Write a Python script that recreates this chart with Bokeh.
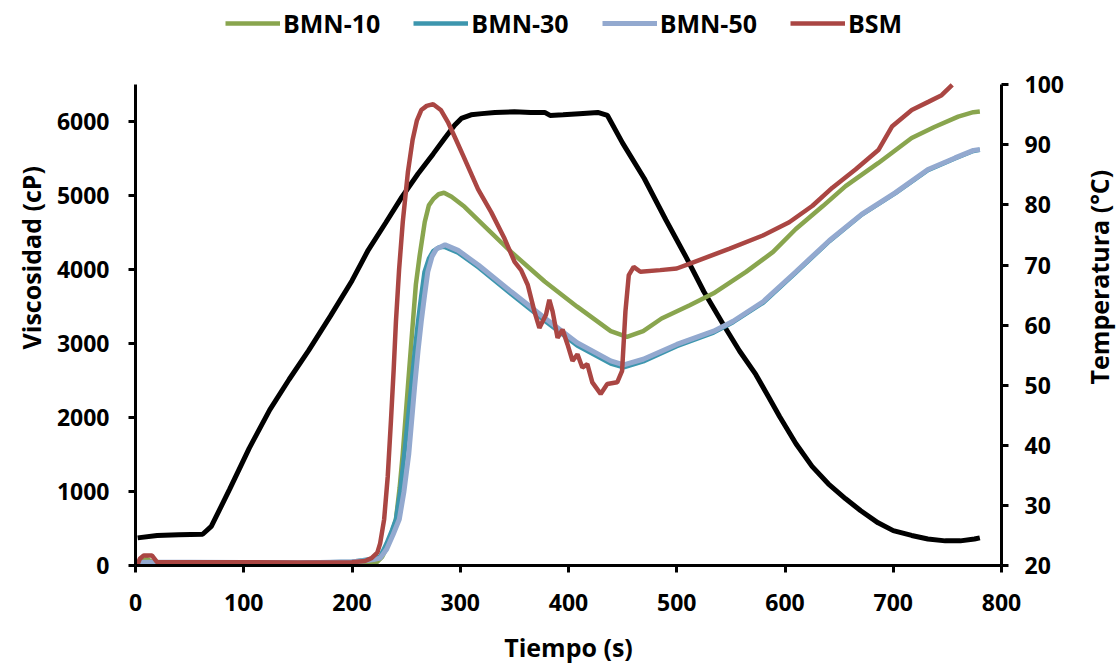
import math
from bokeh.plotting import figure
from bokeh.layouts import row
from bokeh.models import Range1d, LinearAxis, FixedTicker, Legend, LegendItem
from bokeh.core.properties import value
from bokeh.embed import file_html
from bokeh.resources import INLINE

# Temperature profile (secondary axis)
t_temp = [2, 20, 40, 62, 70, 87, 105, 124, 142, 160, 180, 200, 215, 231, 246, 261, 275,
          286, 295, 301, 310, 320, 332, 350, 365, 378, 383, 395, 410, 427, 436, 450, 470,
          490, 509, 525, 543, 558, 573, 585, 595, 610, 625, 640, 656, 670, 686, 700, 717,
          732, 748, 762, 775, 780]
temp = [24.6, 25.0, 25.1, 25.2, 26.5, 32.7, 39.5, 45.9, 51.0, 55.8, 61.5, 67.4, 72.5,
        77.0, 81.3, 85.2, 88.5, 91.2, 93.3, 94.4, 95.0, 95.2, 95.4, 95.5, 95.4, 95.4, 94.9,
        95.0, 95.2, 95.4, 94.9, 90.3, 84.4, 77.5, 71.2, 65.6, 60.1, 55.7, 51.8, 48.0, 44.8,
        40.3, 36.5, 33.6, 31.1, 29.1, 27.1, 25.8, 25.0, 24.4, 24.1, 24.1, 24.4, 24.6]

# BMN-10
t_bmn10 = [0, 5, 10, 14, 18, 25, 100, 200, 215, 223, 228, 233, 237, 240.6, 244, 246.9,
           251.6, 256.3, 259, 262.5, 267.2, 271, 275, 280, 285, 292, 304, 323, 347, 378,
           408, 439, 454, 469, 486, 512, 534, 564, 589, 610, 635, 656, 686, 717, 738, 760,
           774, 780]
v_bmn10 = [0, 40, 90, 60, 20, 15, 15, 20, 30, 45, 120, 270, 450, 625, 1050, 1513, 2410,
           3300, 3800, 4190, 4645, 4870, 4953, 5020, 5040, 4985, 4850, 4580, 4240, 3840,
           3500, 3170, 3090, 3170, 3340, 3520, 3680, 3970, 4240, 4550, 4860, 5130, 5440,
           5780, 5930, 6070, 6130, 6140]

# BMN-30
t_bmn30 = [0, 10, 50, 100, 150, 200, 210, 218, 226, 232, 237, 240.6, 244.5, 248.4, 254.7,
           258, 261, 264, 267, 271, 275, 280, 285, 298, 317, 347, 378, 408, 439, 451, 469,
           500, 534, 552, 580, 610, 641, 671, 702, 732, 757, 774, 780]
v_bmn30 = [40, 45, 45, 40, 35, 50, 70, 90, 120, 300, 480, 625, 1000, 1513, 2410, 2900,
           3300, 3650, 3970, 4150, 4250, 4300, 4310, 4230, 4030, 3670, 3310, 2975, 2730,
           2680, 2760, 2965, 3150, 3290, 3555, 3960, 4385, 4745, 5035, 5345, 5505, 5605,
           5620]

# BMN-50
t_bmn50 = [0, 10, 50, 100, 150, 200, 212, 220, 226, 232, 238, 243.7, 248, 252.5, 257.8,
           261, 264, 267, 270, 274, 278, 286, 298, 317, 347, 378, 408, 439, 451, 469, 500,
           534, 552, 580, 610, 641, 671, 702, 732, 757, 774, 780]
v_bmn50 = [40, 45, 45, 40, 35, 50, 65, 80, 100, 220, 420, 625, 1000, 1513, 2410, 2900,
           3300, 3650, 3970, 4180, 4280, 4337, 4261, 4060, 3704, 3347, 3012, 2767, 2713,
           2789, 2989, 3168, 3303, 3570, 3972, 4395, 4752, 5042, 5355, 5511, 5613, 5625]

# BSM (runs off the top of the viscosity axis at ~755 s)
t_bsm = [1.5, 4, 7.6, 15.3, 19.9, 25, 100, 150, 200, 212, 218, 223.4, 226, 229.7, 233,
         236, 238.5, 240.6, 243.5, 246.9, 251.6, 256, 260, 264, 269, 275, 282, 289, 296,
         303, 316.5, 328.7, 341, 350.2, 356.2, 362.4, 368.5, 373.1, 379.2, 382.3, 385.3,
         389.9, 394.5, 399.1, 403.7, 408.3, 412.8, 417.4, 422, 429.7, 435.8, 445, 449.5,
         452.6, 455.7, 460.2, 466.4, 484.7, 500, 512.2, 548.9, 579.5, 603.9, 625.4, 643.8,
         665.1, 686.5, 698.8, 717.1, 732.4, 744.7, 754.5]
v_bsm = [0, 90, 134, 134, 45, 45, 45, 40, 45, 60, 100, 174, 300, 625, 1200, 1963, 2650,
         3300, 4000, 4645, 5315, 5757, 6020, 6158, 6215, 6238, 6160, 5984, 5760, 5533,
         5087, 4775, 4418, 4105, 3994, 3793, 3436, 3213, 3391, 3592, 3436, 3079, 3190,
         2989, 2767, 2856, 2677, 2722, 2477, 2320, 2454, 2477, 2633, 3436, 3927, 4038,
         3972, 3994, 4016, 4083, 4284, 4462, 4641, 4864, 5109, 5355, 5622, 5935, 6158,
         6269, 6359, 6500]

x_ticks = [0, 100, 200, 300, 400, 500, 600, 700, 800]
visc_ticks = [0, 1000, 2000, 3000, 4000, 5000, 6000]
temp_ticks = [20, 30, 40, 50, 60, 70, 80, 90, 100]

FONT = "Open Sans"
LEFT_W = 50
SIDE_W = 37
MAIN_W = 1117 - LEFT_W - SIDE_W
H = 666

# axes span 0-6500 cP / 20-100 C over 485 px; the frame is extended upward by
# 80 px so that the legend (drawn inside the frame) sits above the axes
TOP_PAD = 80.0
AX_H = 485.0
v_top = 6500 * (AX_H + TOP_PAD) / AX_H
t_top = 20 + 80 * (AX_H + TOP_PAD) / AX_H

p = figure(width=MAIN_W, height=H, output_backend="svg", toolbar_location=None,
           x_range=Range1d(0, 800), y_range=Range1d(0, v_top),
           min_border_left=135 - LEFT_W, min_border_right=MAIN_W - (1001 - LEFT_W),
           min_border_top=5, min_border_bottom=96)
p.extra_y_ranges = {"temp": Range1d(20, t_top)}
p.outline_line_color = None
p.xgrid.grid_line_color = None
p.ygrid.grid_line_color = None
p.background_fill_color = "white"
p.border_fill_color = "white"

rt = p.line(t_temp, temp, y_range_name="temp", line_color="black", line_width=5)
r10 = p.line(t_bmn10, v_bmn10, line_color="#89A54E", line_width=4.5)
r30 = p.line(t_bmn30, v_bmn30, line_color="#3D96AE", line_width=4.5)
r50 = p.line(t_bmn50, v_bmn50, line_color="#93A9CF", line_width=5)
rbsm = p.line(t_bsm, v_bsm, line_color="#AA4643", line_width=4.5)

right = LinearAxis(y_range_name="temp")
p.add_layout(right, "right")


def style(ax, ticks):
    ax.ticker = FixedTicker(ticks=ticks)
    ax.axis_line_width = 3
    ax.axis_line_color = "black"
    ax.major_tick_line_width = 3
    ax.major_tick_line_color = "black"
    ax.major_tick_in = 0
    ax.major_tick_out = 7
    ax.minor_tick_line_color = None
    ax.major_label_text_font = FONT
    ax.major_label_text_font_style = "bold"
    ax.major_label_text_font_size = "23px"
    ax.major_label_text_color = "black"
    ax.axis_label_text_font = FONT
    ax.axis_label_text_font_style = "bold"
    ax.axis_label_text_font_size = "25px"
    ax.axis_label_text_color = "black"


style(p.xaxis[0], x_ticks)
style(p.yaxis[0], visc_ticks)
style(right, temp_ticks)

p.yaxis[0].bounds = (0, 6500)
right.bounds = (20, 100)

p.xaxis[0].axis_label = "Tiempo (s)"
p.xaxis[0].major_label_standoff = 21
p.xaxis[0].axis_label_standoff = 16
p.yaxis[0].major_label_standoff = 19
right.major_label_standoff = 16

legend = Legend(items=[LegendItem(label="BMN-10", renderers=[r10]),
                       LegendItem(label="BMN-30", renderers=[r30]),
                       LegendItem(label="BMN-50", renderers=[r50]),
                       LegendItem(label="BSM", renderers=[rbsm])],
                orientation="horizontal", location=(90, 525),
                glyph_width=55, glyph_height=20, label_standoff=3, spacing=33,
                padding=0, margin=0, border_line_color=None,
                background_fill_alpha=0,
                label_text_font=FONT, label_text_font_style="bold",
                label_text_font_size="25px", label_text_color="black")
p.add_layout(legend, "center")


def title_strip(width, x, y, text):
    s = figure(width=width, height=H, output_backend="svg", toolbar_location=None,
               x_range=Range1d(0, width), y_range=Range1d(0, H),
               x_axis_type=None, y_axis_type=None, min_border=0)
    s.outline_line_color = None
    s.xgrid.grid_line_color = None
    s.ygrid.grid_line_color = None
    s.background_fill_color = "white"
    s.border_fill_color = "white"
    s.text(x=[x], y=[H - y], text=[text], angle=math.pi / 2,
           text_align="center", text_baseline="middle", text_font=value(FONT),
           text_font_style="bold", text_font_size="25px", text_color="black")
    return s


left_strip = title_strip(LEFT_W, 30, 300, "Viscosidad (cP)")
right_strip = title_strip(SIDE_W, 18, 323, "Temperatura (°C)")

layout = row(left_strip, p, right_strip, spacing=0)

open("out.html", "w").write(file_html(layout, INLINE))
